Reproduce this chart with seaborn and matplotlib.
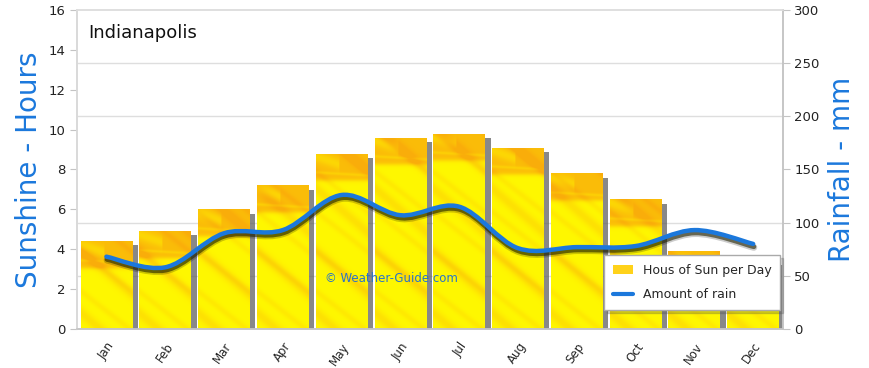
#! /usr/bin/env python3
import numpy as np
import pandas as pd
import matplotlib
matplotlib.use("Agg")
import matplotlib.pyplot as plt
import matplotlib.patheffects as pe
from matplotlib.path import Path
from matplotlib.patches import PathPatch, Patch
from matplotlib.lines import Line2D
import seaborn as sns

# data
months = ["Jan", "Feb", "Mar", "Apr", "May", "Jun",
          "Jul", "Aug", "Sep", "Oct", "Nov", "Dec"]
sun_hours = [4.4, 4.9, 6.0, 7.2, 8.8, 9.6, 9.8, 9.1, 7.8, 6.5, 3.9, 3.4]
rain_mm = [68, 58, 90, 93, 126, 107, 115, 76, 77, 78, 93, 80]

BLUE = "#1b78dc"
GRID = "#dedede"
SPINE = "#c4c4c4"

sns.set_style("white")
plt.rcParams["font.family"] = ["DejaVu Sans"]

df = pd.DataFrame({"month": months, "sun": sun_hours, "rain": rain_mm})

fig = plt.figure(figsize=(8.7, 3.68), dpi=100)
ax = fig.add_axes([0.0885, 0.106, 0.811, 0.867])
ax2 = ax.twinx()

# bars
sns.barplot(data=df, x="month", y="sun", ax=ax, color="#fff200",
            width=0.88, saturation=1, edgecolor="none")


def bar_texture(h, w_px=60):
    # yellow base, orange band at the top and soft diagonal streaks
    n_rows = max(int(h * 20), 2)
    u = np.linspace(0, 1, w_px)[None, :]
    y = np.linspace(h, 0, n_rows)[:, None]
    d = h - y
    band = 1 / (1 + np.exp(-(1.35 - d) / 0.06))
    wedge = np.exp(-((d - 0.15 - 0.9 * u) / 0.3) ** 2) * (u < 0.45)
    s = 0.8 * band * (1 - 0.45 * wedge)
    s -= 0.25 * np.exp(-((d - 0.95 - 0.15 * u) / 0.08) ** 2)
    s += 0.3 * (0.5 + 0.5 * np.sin(2 * np.pi * (0.32 * y + 0.7 * u))) ** 8
    s += 0.18 * (0.5 + 0.5 * np.sin(2 * np.pi * (0.5 * y + 1.0 * u) + 2.0)) ** 10
    s = np.clip(s, 0, 1)[..., None]
    yellow = np.array([1.0, 0.97, 0.0])
    orange = np.array([0.98, 0.68, 0.04])
    return yellow + s * (orange - yellow)


for bar in ax.patches:
    bar.set_path_effects([
        pe.SimplePatchShadow(offset=(4, -3), shadow_rgbFace="#606060", alpha=0.75),
        pe.Normal(),
    ])
    x0 = bar.get_x()
    w = bar.get_width()
    h = bar.get_height()
    im = ax.imshow(bar_texture(h), extent=(x0, x0 + w, 0, h), aspect="auto",
                   origin="upper", zorder=bar.get_zorder() + 0.1,
                   interpolation="bilinear")
    im.set_clip_path(bar)
ax.set_xlim(-0.5, 11.5)
ax.set_ylim(0, 16)

# horizontal grid follows the rainfall scale, behind the bars
ax.set_yticks(np.arange(0, 17, 2))
ax.set_yticks(np.arange(50, 301, 50) * 16 / 300, minor=True)
ax.grid(False)
ax.grid(which="minor", axis="y", color=GRID, linewidth=1.0, zorder=0)
ax.set_axisbelow(True)

# x axis: labels at centres, tick marks at boundaries
ax.set_xticks(range(len(months)))
ax.set_xticklabels(months, rotation=55, ha="right", rotation_mode="anchor",
                   fontsize=8.5)
ax.set_xticks(np.arange(-0.5, 12, 1), minor=True)
ax.tick_params(axis="x", which="major", length=0, pad=8)
ax.tick_params(axis="x", which="minor", length=5, color=SPINE, width=1)
ax.tick_params(axis="y", which="major", length=5, color=SPINE, labelsize=9.5,
               labelcolor="#222222")
ax.tick_params(axis="y", which="minor", length=0)
ax.set_xlabel("")
ax.set_ylabel("Sunshine - Hours", color=BLUE, fontsize=20, labelpad=4)

# rain line, smooth curve through the monthly values
ax2.set_ylim(0, 300)
ax2.set_yticks(np.arange(0, 301, 50))
ax2.tick_params(axis="y", length=5, color=SPINE, labelsize=9.5,
                labelcolor="#222222")
ax2.set_ylabel("Rainfall - mm", color=BLUE, fontsize=20, labelpad=6)
ax2.grid(False)

xs = np.arange(len(rain_mm), dtype=float)
ys = np.array(rain_mm, dtype=float)
verts = [(xs[0], ys[0])]
codes = [Path.MOVETO]
for i in range(len(xs) - 1):
    p0 = (xs[max(i - 1, 0)], ys[max(i - 1, 0)])
    p1 = (xs[i], ys[i])
    p2 = (xs[i + 1], ys[i + 1])
    p3 = (xs[min(i + 2, len(xs) - 1)], ys[min(i + 2, len(xs) - 1)])
    c1 = (p1[0] + (p2[0] - p0[0]) / 6, p1[1] + (p2[1] - p0[1]) / 6)
    c2 = (p2[0] - (p3[0] - p1[0]) / 6, p2[1] - (p3[1] - p1[1]) / 6)
    verts += [c1, c2, p2]
    codes += [Path.CURVE4] * 3
curve = PathPatch(Path(verts, codes), facecolor="none", edgecolor=BLUE,
                  linewidth=3.2, capstyle="round", zorder=5)
curve.set_path_effects([
    pe.Stroke(linewidth=5, foreground="#000000", alpha=0.2, offset=(0.5, -2.5)),
    pe.Stroke(linewidth=3.5, foreground="#222200", alpha=0.6, offset=(0.5, -2)),
    pe.Normal(),
])
ax2.add_patch(curve)

# spines
for a in (ax, ax2):
    for side in ("left", "right", "top", "bottom"):
        a.spines[side].set_visible(True)
        a.spines[side].set_color(SPINE)
        a.spines[side].set_linewidth(1.1)
ax.spines["top"].set_color(GRID)
ax2.spines["top"].set_color(GRID)
ax2.spines["left"].set_color(GRID)

ax.text(0.016, 0.928, "Indianapolis", transform=ax.transAxes, fontsize=13,
        va="center", ha="left", color="#111111")
ax2.text(0.352, 0.157, "\u00a9 Weather-Guide.com", transform=ax.transAxes,
         fontsize=8.5, va="center", ha="left", color="#2a73c8", zorder=6)

handles = [
    Patch(facecolor="#ffd21a", edgecolor="none"),
    Line2D([0], [0], color=BLUE, linewidth=3),
]
leg = ax2.legend(handles, ["Hous of Sun per Day", "Amount of rain"],
                 loc="lower left", bbox_to_anchor=(0.738, 0.04), fontsize=9,
                 frameon=True, fancybox=False,
                 shadow={"ox": 2, "oy": -2, "alpha": 0.25}, framealpha=1,
                 edgecolor="#aaaaaa", handlelength=1.6, borderpad=0.7,
                 labelspacing=0.9)
leg.set_zorder(10)

fig.savefig("out.png", dpi=100)
